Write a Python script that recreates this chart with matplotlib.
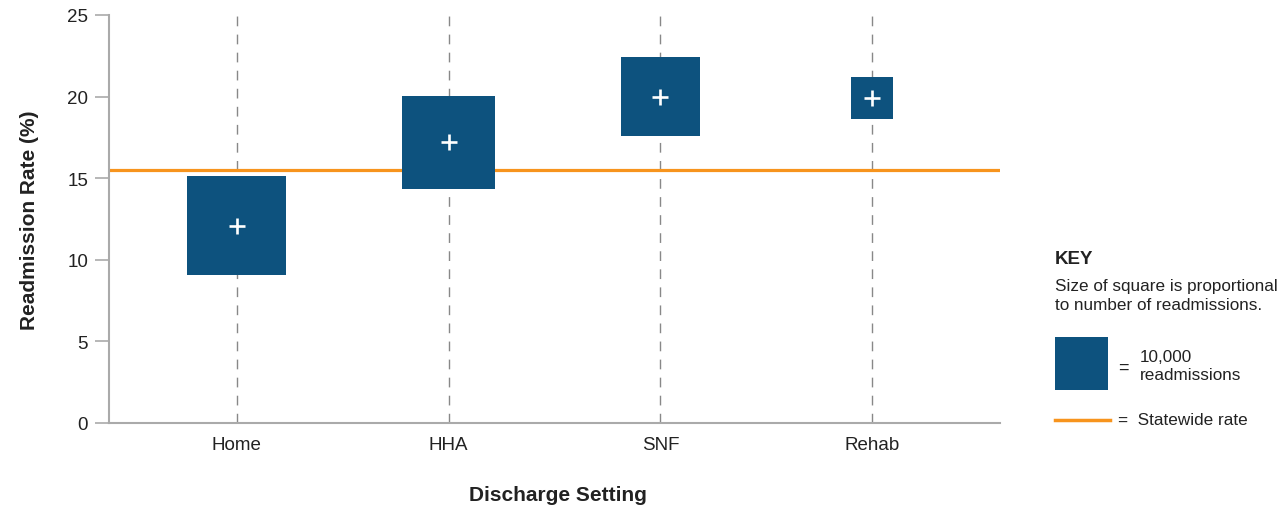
import numpy as np
import matplotlib
matplotlib.use("Agg")
import matplotlib.pyplot as plt
from matplotlib.patches import Rectangle
from matplotlib.lines import Line2D

# data
settings = ["Home", "HHA", "SNF", "Rehab"]
rates = [12.1, 17.2, 20.0, 19.9]
readmissions = [34900, 30800, 22200, 6300]
statewide_rate = 15.5
key_count = 10000

blue = "#0d527e"
orange = "#f7941d"
grey = "#aaaaaa"
txt = "#222222"

plt.rcParams['font.family'] = ['Liberation Sans', 'DejaVu Sans']

W, H, dpi = 1278, 506, 100
fig = plt.figure(figsize=(W / dpi, H / dpi), dpi=dpi)
ax = fig.add_axes([109 / W, 1 - 424 / H, (1000 - 109) / W, (424 - 16) / H])

# side of square in pixels = px_per_root * sqrt(readmissions)
px_per_root = 53 / np.sqrt(key_count)
side_pts = px_per_root * np.sqrt(np.array(readmissions)) * 72 / dpi

x = np.arange(len(settings))
for xi in x:
    ax.axvline(xi, color="#888888", lw=1, dashes=(7, 6), zorder=1)
ax.axhline(statewide_rate, color=orange, lw=2.3, zorder=2)
ax.scatter(x, rates, s=side_pts ** 2, marker="s", color=blue, linewidths=0, zorder=3)
ax.scatter(x, rates, s=130, marker="+", color="white", linewidths=1.9, zorder=4)

ax.set_xlim(-0.604, 3.604)
ax.set_ylim(0, 25)
ax.set_yticks([0, 5, 10, 15, 20, 25])
ax.set_xticks(x)
ax.set_xticklabels(settings)
ax.tick_params(axis="y", length=10, color=grey, width=1.2, labelsize=13.5, labelcolor=txt, pad=5)
ax.tick_params(axis="x", length=0, labelsize=13.5, labelcolor=txt, pad=9)
for s in ["top", "right"]:
    ax.spines[s].set_visible(False)
for s in ["left", "bottom"]:
    ax.spines[s].set_color(grey)
    ax.spines[s].set_linewidth(1.5)

ax.set_ylabel("Readmission Rate (%)", fontsize=15, fontweight="bold", color=txt, labelpad=20)
fig.text(558 / W, 1 - 496 / H, "Discharge Setting", fontsize=15, fontweight="bold",
         color=txt, ha="center", va="center")

# key
kx = 1055
fig.text(kx / W, 1 - 259 / H, "KEY", fontsize=13.5, fontweight="bold", color=txt, va="center")
fig.text(kx / W, 1 - 296 / H, "Size of square is proportional\nto number of readmissions.",
         fontsize=12.3, color=txt, va="center", linespacing=1.4)
side_px = px_per_root * np.sqrt(key_count)
fig.add_artist(Rectangle((kx / W, 1 - 391 / H), side_px / W, side_px / H,
                         transform=fig.transFigure, color=blue, lw=0))
fig.text(1118 / W, 1 - 368 / H, "=", fontsize=13, color=txt, va="center")
fig.text(1140 / W, 1 - 366 / H, "10,000\nreadmissions", fontsize=12.3, color=txt,
         va="center", linespacing=1.25)
fig.add_artist(Line2D([kx / W, 1110 / W], [1 - 421 / H, 1 - 421 / H],
                      transform=fig.transFigure, color=orange, lw=2.5))
fig.text(1118 / W, 1 - 421 / H, "=  Statewide rate", fontsize=12.3, color=txt, va="center")

fig.savefig("out.png", dpi=dpi)
